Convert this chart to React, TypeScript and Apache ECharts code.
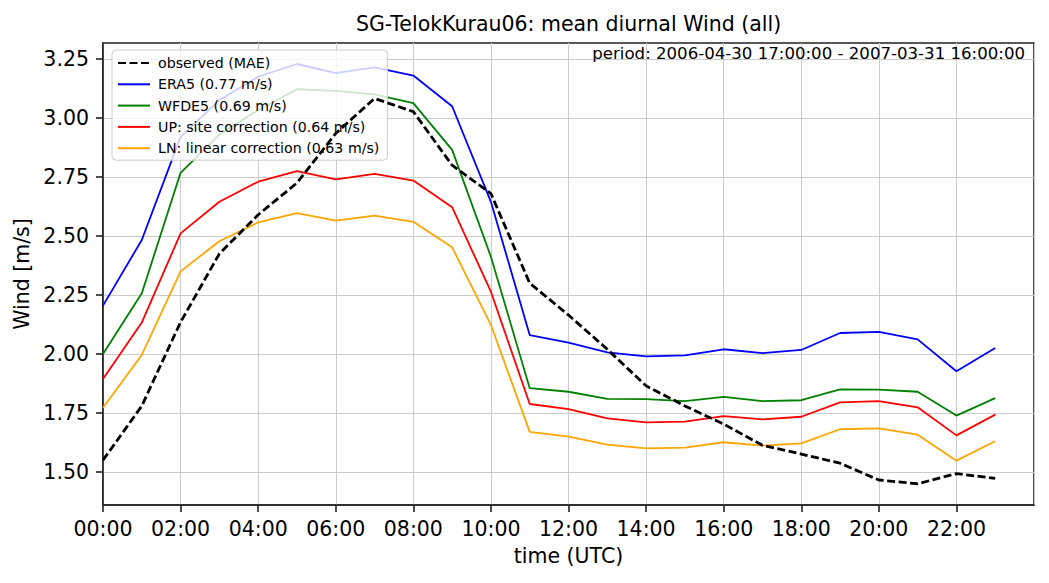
import * as echarts from "echarts";
import { useEffect, useRef } from "react";

const hours = Array.from({ length: 24 }, (_, i) => i);

const observed = [1.55, 1.78, 2.135, 2.425, 2.59, 2.725, 2.935, 3.083, 3.027, 2.8, 2.68, 2.3, 2.165, 2.02, 1.865, 1.78, 1.703, 1.613, 1.576, 1.537, 1.466, 1.45, 1.493, 1.473];
const era5 = [2.205, 2.483, 2.92, 3.076, 3.175, 3.229, 3.19, 3.215, 3.18, 3.05, 2.645, 2.08, 2.048, 2.007, 1.99, 1.994, 2.02, 2.004, 2.017, 2.089, 2.094, 2.062, 1.927, 2.025];
const wfde5 = [2.0, 2.257, 2.768, 2.93, 3.034, 3.122, 3.115, 3.1, 3.063, 2.865, 2.412, 1.855, 1.84, 1.81, 1.809, 1.8, 1.818, 1.8, 1.804, 1.85, 1.849, 1.84, 1.739, 1.813];
const upSite = [1.894, 2.133, 2.511, 2.645, 2.73, 2.775, 2.74, 2.763, 2.735, 2.622, 2.264, 1.788, 1.766, 1.727, 1.71, 1.713, 1.737, 1.723, 1.734, 1.795, 1.8, 1.774, 1.655, 1.743];
const lnLinear = [1.772, 1.996, 2.35, 2.478, 2.558, 2.597, 2.565, 2.586, 2.56, 2.452, 2.123, 1.67, 1.65, 1.616, 1.6, 1.603, 1.626, 1.612, 1.621, 1.681, 1.685, 1.658, 1.548, 1.63];

const yTicks = [1.5, 1.75, 2.0, 2.25, 2.5, 2.75, 3.0, 3.25];

const seriesDefs = [
  { name: "observed (MAE)", data: observed, color: "#000000", width: 2.8, dash: [8, 3.5], z: 5 },
  { name: "ERA5 (0.77 m/s)", data: era5, color: "#0000ff", width: 1.8, dash: "solid", z: 2 },
  { name: "WFDE5 (0.69 m/s)", data: wfde5, color: "#008000", width: 1.8, dash: "solid", z: 2 },
  { name: "UP: site correction (0.64 m/s)", data: upSite, color: "#ff0000", width: 1.8, dash: "solid", z: 2 },
  { name: "LN: linear correction (0.63 m/s)", data: lnLinear, color: "#ffa500", width: 1.8, dash: "solid", z: 2 },
];

const FONT = "'DejaVu Sans', sans-serif";

export default function App() {
  const chartRef = useRef<HTMLDivElement | null>(null);

  useEffect(() => {
    if (!chartRef.current) return;
    const chart = echarts.init(chartRef.current, null, { renderer: "svg" });

    chart.setOption({
      animation: false,
      textStyle: { fontFamily: FONT },
      grid: {
        left: 103,
        right: 15,
        top: 43,
        bottom: 78,
        show: true,
        borderColor: "#222222",
        borderWidth: 1.6,
        backgroundColor: "transparent",
      },
      graphic: [
        {
          type: "text",
          x: 568.5,
          y: 24,
          style: {
            text: "SG-TelokKurau06: mean diurnal Wind (all)",
            fontSize: 20.5,
            fontFamily: FONT,
            fill: "#000",
            align: "center",
            verticalAlign: "middle",
          },
        },
        {
          type: "text",
          x: 1025,
          y: 53,
          z: 10,
          style: {
            text: "period: 2006-04-30 17:00:00 - 2007-03-31 16:00:00",
            fontSize: 16.6,
            fontFamily: FONT,
            fill: "#000",
            align: "right",
            verticalAlign: "middle",
          },
        },
      ],
      legend: {
        orient: "vertical",
        left: 112,
        top: 50,
        padding: [6, 8, 5, 5],
        itemWidth: 32,
        itemHeight: 14,
        itemGap: 7.3,
        selectedMode: false,
        backgroundColor: "rgba(255,255,255,0.8)",
        borderColor: "#cccccc",
        borderWidth: 1,
        borderRadius: 4,
        itemStyle: { opacity: 0 },
        textStyle: { fontSize: 14.2, color: "#000", fontFamily: FONT, padding: [0, 0, 0, 3] },
        data: seriesDefs.map((s) => s.name),
      },
      xAxis: {
        type: "value",
        min: 0,
        max: 24,
        interval: 2,
        name: "time (UTC)",
        nameLocation: "middle",
        nameGap: 40,
        nameTextStyle: { fontSize: 20.5, color: "#000", fontFamily: FONT },
        axisLine: { show: true, lineStyle: { color: "#222222", width: 1.6 } },
        axisTick: { show: true, length: 7, lineStyle: { color: "#222222", width: 1.6 } },
        axisLabel: {
          fontSize: 20.5,
          color: "#000",
          margin: 13,
          showMaxLabel: false,
          formatter: (v: number) => (v >= 24 ? "" : String(v).padStart(2, "0") + ":00"),
        },
        splitLine: { show: true, lineStyle: { color: "#cccccc", width: 1 } },
      },
      yAxis: {
        type: "value",
        min: 1.36,
        max: 3.318,
        name: "Wind [m/s]",
        nameLocation: "middle",
        nameGap: 68,
        nameTextStyle: { fontSize: 20.5, color: "#000", fontFamily: FONT },
        axisLine: { show: true, lineStyle: { color: "#222222", width: 1.6 } },
        axisTick: { show: true, length: 7, customValues: yTicks, lineStyle: { color: "#222222", width: 1.6 } },
        axisLabel: {
          fontSize: 20.5,
          color: "#000",
          margin: 14,
          customValues: yTicks,
          formatter: (v: number) => v.toFixed(2),
        },
        splitLine: { show: true, lineStyle: { color: "#cccccc", width: 1 } },
      },
      series: seriesDefs.map((s) => ({
        name: s.name,
        type: "line",
        data: hours.map((h, i) => [h, s.data[i]]),
        symbol: "none",
        z: s.z,
        color: s.color,
        lineStyle: { color: s.color, width: s.width, type: s.dash },
      })),
    });

    return () => {
      chart.dispose();
    };
  }, []);

  return (
    <div
      ref={chartRef}
      style={{ position: "fixed", left: 0, top: 0, width: 1049, height: 583, background: "#fff" }}
    />
  );
}
